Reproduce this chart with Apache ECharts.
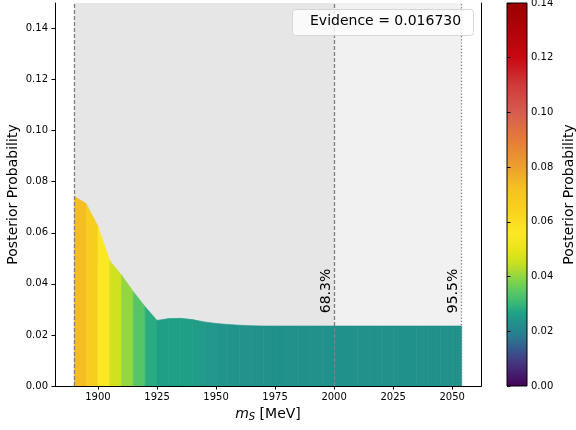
<!DOCTYPE html>
<html>
<head>
<meta charset="utf-8">
<script src="https://cdn.jsdelivr.net/npm/echarts@6/dist/echarts.min.js"></script>
<style>
html, body { margin: 0; padding: 0; background: #fff; }
#chart { width: 576px; height: 430px; }
</style>
</head>
<body>
<div id="chart"></div>
<script>
// posterior of m_S on the scan grid (MeV)
const massValues = [1890, 1895, 1900, 1905, 1910, 1915, 1920, 1925, 1930, 1935, 1940, 1945,
    1950, 1955, 1960, 1965, 1970, 1975, 1980, 1985, 1990, 1995, 2000, 2005, 2010, 2015,
    2020, 2025, 2030, 2035, 2040, 2045, 2050, 2054];
const posterior = [0.0743, 0.0714, 0.0626, 0.0490, 0.0434, 0.0369, 0.0310, 0.0257, 0.0264,
    0.0265, 0.0260, 0.0251, 0.0245, 0.0241, 0.0238, 0.0236, 0.0235, 0.0235, 0.0235, 0.0235,
    0.0235, 0.0235, 0.0235, 0.0235, 0.0235, 0.0235, 0.0235, 0.0235, 0.0235, 0.0235, 0.0235,
    0.0235, 0.0235, 0.0235];

const xTicks = [1900, 1925, 1950, 1975, 2000, 2025, 2050];
const yTicks = [0, 0.02, 0.04, 0.06, 0.08, 0.10, 0.12, 0.14];

// credible interval bounds
const lowerEdge = 1890;
const ci68 = 2000;
const ci95 = 2054;
const ciLabels = ['68.3%', '95.5%'];
const evidenceText = 'Evidence = 0.016730';

// colour scale (value -> colour)
const cmapStops = [0, 0.008, 0.014, 0.019, 0.0235, 0.027, 0.030, 0.035, 0.040, 0.045,
    0.050, 0.056, 0.064, 0.072, 0.080, 0.090, 0.100, 0.110, 0.120, 0.140];
const cmapColors = ['#440154', '#46327e', '#365c8d', '#277f8e', '#21918c', '#20a386',
    '#35b779', '#5ec962', '#90d743', '#c8e020', '#e8e51a', '#fde725', '#f8d31f', '#f5c221',
    '#eca02c', '#e57c3a', '#d65c50', '#cf3a3a', '#c80812', '#990000'];
const cbarMax = 0.14;

function hexRgb(h) {
    return [parseInt(h.slice(1, 3), 16), parseInt(h.slice(3, 5), 16), parseInt(h.slice(5, 7), 16)];
}
function cmap(v) {
    if (v <= cmapStops[0]) return cmapColors[0];
    for (let i = 0; i < cmapStops.length - 1; i++) {
        if (v <= cmapStops[i + 1]) {
            const t = (v - cmapStops[i]) / (cmapStops[i + 1] - cmapStops[i]);
            const a = hexRgb(cmapColors[i]), b = hexRgb(cmapColors[i + 1]);
            const c = a.map((x, k) => Math.round(x + (b[k] - x) * t));
            return 'rgb(' + c.join(',') + ')';
        }
    }
    return cmapColors[cmapColors.length - 1];
}

const segments = [];
for (let i = 0; i < massValues.length - 1; i++) {
    segments.push([massValues[i], posterior[i], massValues[i + 1], posterior[i + 1],
        (posterior[i] + posterior[i + 1]) / 2]);
}

const FONT = '"DejaVu Sans", sans-serif';
const xMin = 1881.8, xMax = 2062.2;

var chartDom = document.getElementById('chart');
var myChart = echarts.init(chartDom);

var option = {
    animation: false,
    textStyle: { fontFamily: FONT },
    grid: [
        { left: 55, right: 95, top: 3, bottom: 44, outerBoundsMode: 'none', containLabel: false },
        { left: 507, width: 20, top: 3, bottom: 44, outerBoundsMode: 'none', containLabel: false }
    ],
    xAxis: [
        {
            type: 'value', gridIndex: 0, min: xMin, max: xMax, z: 10,
            name: '{i|m}{s|S} [MeV]',
            nameLocation: 'middle', nameGap: 20, nameMoveOverlap: false,
            nameTextStyle: {
                color: '#000', fontSize: 14, fontFamily: FONT,
                rich: {
                    i: { fontStyle: 'italic', fontSize: 14, fontFamily: FONT },
                    s: { fontStyle: 'italic', fontSize: 10, fontFamily: FONT, padding: [6, 0, 0, 0] }
                }
            },
            axisLine: { lineStyle: { color: '#000', width: 1 } },
            axisTick: { show: true, length: 3.5, lineStyle: { color: '#000' }, customValues: xTicks },
            axisLabel: { color: '#000', fontSize: 10, margin: 6, customValues: xTicks, formatter: v => String(v) },
            splitLine: { show: false }
        },
        {
            type: 'value', gridIndex: 0, position: 'top', min: xMin, max: xMax, z: 10,
            axisLine: { lineStyle: { color: '#000', width: 1 } },
            axisTick: { show: false }, axisLabel: { show: false }, splitLine: { show: false }
        },
        {
            type: 'value', gridIndex: 1, min: 0, max: 1, show: false
        }
    ],
    yAxis: [
        {
            type: 'value', gridIndex: 0, min: 0, max: 0.15, z: 10,
            name: 'Posterior Probability',
            nameLocation: 'middle', nameGap: 35, nameMoveOverlap: false,
            nameTextStyle: { color: '#000', fontSize: 14, fontFamily: FONT },
            axisLine: { show: true, lineStyle: { color: '#000', width: 1 } },
            axisTick: { show: true, length: 3.5, lineStyle: { color: '#000' }, customValues: yTicks },
            axisLabel: {
                color: '#000', fontSize: 10, margin: 7, customValues: yTicks,
                formatter: v => v.toFixed(2)
            },
            splitLine: { show: false }
        },
        {
            type: 'value', gridIndex: 0, position: 'right', min: 0, max: 0.15, z: 10,
            axisLine: { show: true, lineStyle: { color: '#000', width: 1 } },
            axisTick: { show: false }, axisLabel: { show: false }, splitLine: { show: false }
        },
        {
            type: 'value', gridIndex: 1, position: 'right', min: 0, max: cbarMax, z: 10,
            name: 'Posterior Probability',
            nameLocation: 'middle', nameGap: 35, nameRotate: 90, nameMoveOverlap: false,
            nameTextStyle: { color: '#000', fontSize: 14, fontFamily: FONT },
            axisLine: { show: false },
            axisTick: { show: true, length: 3.5, lineStyle: { color: '#000' }, customValues: yTicks },
            axisLabel: {
                color: '#000', fontSize: 10, margin: 4, customValues: yTicks,
                formatter: v => v.toFixed(2)
            },
            splitLine: { show: false }
        }
    ],
    graphic: [
        {
            type: 'rect', left: 292, top: 9, z: 100,
            shape: { width: 181, height: 26, r: 3 },
            style: { fill: 'rgba(255,255,255,0.8)', stroke: '#d6d6d6', lineWidth: 1 }
        },
        {
            type: 'text', left: 310, top: 14, z: 101,
            style: { text: evidenceText, font: '14px ' + FONT, fill: '#000' }
        }
    ],
    series: [
        {
            // shaded credible regions
            type: 'line', xAxisIndex: 0, yAxisIndex: 0, data: [], z: 1, silent: true,
            markArea: {
                silent: true,
                data: [
                    [{ xAxis: lowerEdge, itemStyle: { color: '#e6e6e6' } }, { xAxis: ci68 }],
                    [{ xAxis: ci68, itemStyle: { color: '#f1f1f1' } }, { xAxis: ci95 }]
                ]
            }
        },
        {
            type: 'custom', xAxisIndex: 0, yAxisIndex: 0, z: 2, silent: true,
            data: segments,
            renderItem: function (params, api) {
                const x0 = api.value(0), y0 = api.value(1), x1 = api.value(2), y1 = api.value(3);
                const pts = [api.coord([x0, 0]), api.coord([x0, y0]), api.coord([x1, y1]), api.coord([x1, 0])];
                const c = cmap(api.value(4));
                return {
                    type: 'polygon', shape: { points: pts },
                    style: { fill: c, stroke: c, lineWidth: 0.6 }
                };
            }
        },
        {
            type: 'line', xAxisIndex: 0, yAxisIndex: 0, data: [], z: 5, silent: true,
            markLine: {
                silent: true, symbol: 'none',
                label: { show: false },
                lineStyle: { color: '#7f7f7f', width: 1.3, type: [4, 2] },
                data: [
                    { xAxis: lowerEdge },
                    { xAxis: ci68 },
                    { xAxis: ci95, lineStyle: { type: [1.2, 2] } }
                ]
            }
        },
        {
            type: 'custom', xAxisIndex: 0, yAxisIndex: 0, z: 6, silent: true,
            data: [[ci68, 0.0285], [ci95, 0.0285]],
            renderItem: function (params, api) {
                const p = api.coord([api.value(0), api.value(1)]);
                return {
                    type: 'text', x: p[0] - 1, y: p[1], rotation: Math.PI / 2,
                    style: {
                        text: ciLabels[params.dataIndex], font: '14px ' + FONT, fill: '#000',
                        align: 'left', verticalAlign: 'bottom',
                        textAlign: 'left', textVerticalAlign: 'bottom'
                    }
                };
            }
        },
        {
            // colour bar
            type: 'custom', xAxisIndex: 2, yAxisIndex: 2, z: 2, silent: true,
            data: [[0, 0]],
            renderItem: function (params, api) {
                const cs = params.coordSys;
                const stops = cmapStops.map((s, i) => ({ offset: s / cbarMax, color: cmapColors[i] }));
                return {
                    type: 'rect',
                    shape: { x: cs.x, y: cs.y, width: cs.width, height: cs.height },
                    style: {
                        fill: new echarts.graphic.LinearGradient(0, 1, 0, 0, stops),
                        stroke: '#000', lineWidth: 1
                    }
                };
            }
        }
    ]
};

option && myChart.setOption(option);
</script>
</body>
</html>
